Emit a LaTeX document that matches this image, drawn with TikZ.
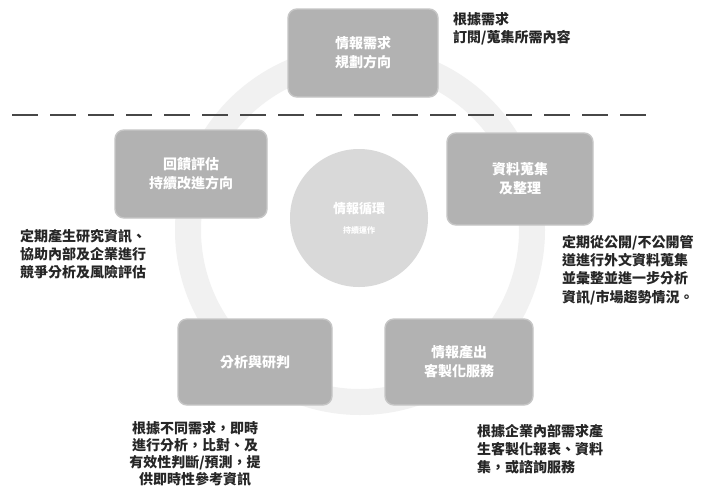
\documentclass[tikz,border=0pt]{standalone}
\usepackage{fontspec}
\setmainfont{Noto Sans CJK TC}
\begin{document}
\begin{tikzpicture}[x=1pt,y=-1pt,
  stagebox/.style={draw=gray!45, line width=1.4pt, fill=gray!60, rounded corners=9pt,
    minimum width=150pt, minimum height=88pt, align=center, text=white,
    font=\fontsize{14}{19}\selectfont\bfseries},
  hub/.style={circle, fill=gray!30, minimum size=138pt, align=center, text=white,
    font=\fontsize{13}{20}\selectfont\bfseries},
  note/.style={align=left, text=black!85, font=\fontsize{14}{18.3}\selectfont\bfseries, anchor=north west, inner sep=0pt},
  ring/.style={line width=26pt, draw=gray!11},
  sep/.style={line width=2.2pt, draw=black!72, dash pattern=on 26pt off 12pt}
]
\useasboundingbox (0,0) rectangle (703,491);
\fill[white] (0,0) rectangle (703,491);

\coordinate (c) at (360,230);
\draw[ring] (c) circle (172pt);

\coordinate (sepL) at (12,115);
\coordinate (sepR) at (648,115);
\draw[sep] (sepL) -- (sepR);

\node[stagebox] (plan) at (363,53) {情報需求\\規劃方向};
\node[stagebox, minimum width=152pt] (left) at (191,174) {回饋評估\\持續改進方向};
\node[stagebox, minimum width=146pt, minimum height=92pt] (collect) at (520,179) {資料蒐集\\及整理};
\node[stagebox, minimum width=154pt, minimum height=86pt] (analyze) at (255,362) {分析與研判};
\node[stagebox, minimum width=148pt, minimum height=86pt] (produce) at (459,362) {情報產出\\客製化服務};
\node[hub] (core) at (359,218) {情報循環\\\footnotesize 持續運作};

\node[note] (n1) at (453,12) {根據需求\\訂閱/蒐集所需內容};
\node[note] (n2) at (20,229) {定期產生研究資訊、\\協助內部及企業進行\\競爭分析及風險評估};
\node[note] (n3) at (562,235) {定期從公開/不公開管\\道進行外文資料蒐集\\並彙整並進一步分析\\資訊/市場趨勢情況。};
\node[note, align=center, anchor=north, font=\fontsize{14}{17.2}\selectfont\bfseries] (n4) at (195,421) {根據不同需求，即時\\進行分析，比對、及\\有效性判斷/預測，提\\供即時性參考資訊};
\node[note] (n5) at (477,424) {根據企業內部需求產\\生客製化報表、資料\\集，或諮詢服務};
\end{tikzpicture}
\end{document}
